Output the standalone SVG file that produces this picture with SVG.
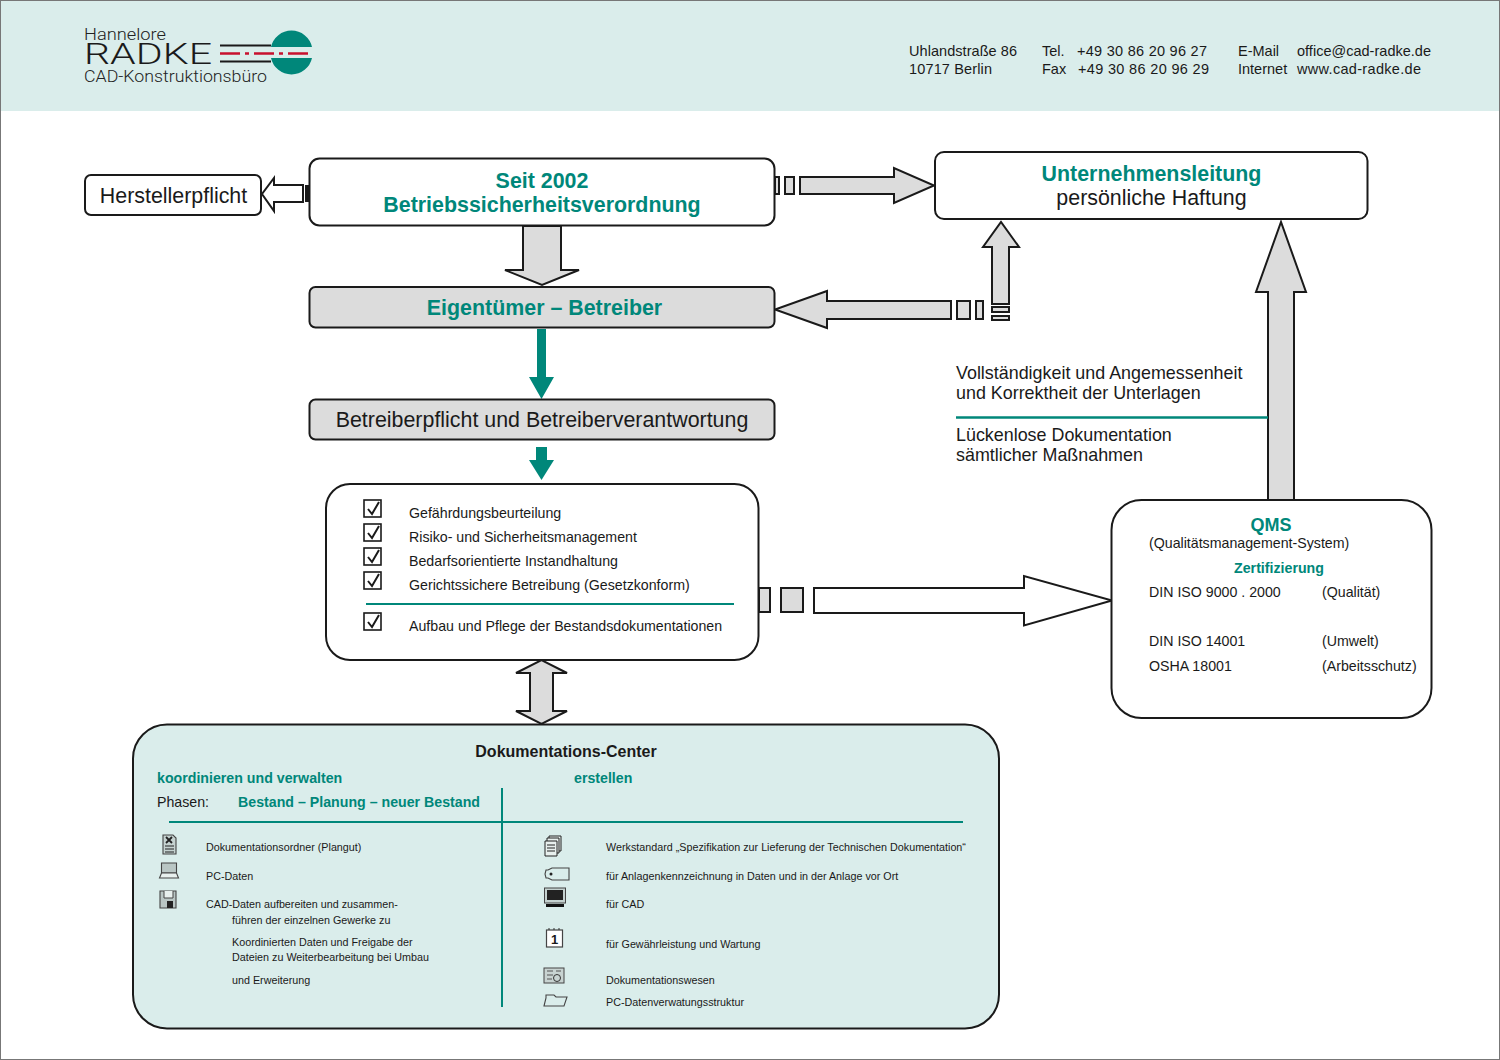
<svg xmlns="http://www.w3.org/2000/svg" width="1500" height="1060" viewBox="0 0 1500 1060">
<defs>
<style>
text{font-family:"Liberation Sans",Arial,sans-serif;fill:#1a1a1a}
.box{stroke:#1a1a1a;stroke-width:2;fill:#fff}
.gbox{stroke:#1a1a1a;stroke-width:2;fill:#dcdcdc}
.arr{stroke:#1a1a1a;stroke-width:2;fill:#dcdcdc;stroke-linejoin:miter}
.warr{stroke:#1a1a1a;stroke-width:2;fill:#fff}
.g{fill:#00877a}
.gl{stroke:#00877a;stroke-width:2.5;fill:none}
.h{font-size:21.4px;font-weight:bold;fill:#00877a;text-anchor:middle}
.m{font-size:21.4px;text-anchor:middle}
.s{font-size:14.5px}
.q{font-size:14.2px}
.t{font-size:10.75px}
.b{font-size:14.2px;font-weight:bold;fill:#00877a}
.n{font-size:17.9px}
.lg{font-family:Roboto,"Liberation Sans",sans-serif;font-weight:300;fill:#222}
.ck{fill:#fff;stroke:#1a1a1a;stroke-width:1.6}
.ckm{fill:none;stroke:#1a1a1a;stroke-width:2}
.i{fill:none;stroke:#444;stroke-width:1.1}
</style>
<g id="check"><rect class="ck" x="0" y="0" width="17" height="17"/><path class="ckm" d="M4 9l4 5L15 2"/></g>
</defs>
<rect x="0.5" y="0.5" width="1499" height="1059" fill="#fff" stroke="#777"/>
<rect x="1" y="1" width="1498" height="110" fill="#daedeb"/>

<g id="logo">
<text class="lg" x="84" y="40" textLength="82" lengthAdjust="spacingAndGlyphs" style="font-size:16.5px">Hannelore</text>
<text class="lg" x="84" y="64" textLength="128" lengthAdjust="spacingAndGlyphs" style="font-size:29px;fill:#1a1a1a">RADKE</text>
<text class="lg" x="84" y="82" textLength="183" lengthAdjust="spacingAndGlyphs" style="font-size:16.5px">CAD-Konstruktionsbüro</text>
<path class="g" d="M271 47.500A21 21 0 0 1 312 47.500ZM271 58.500A21 21 0 0 0 312 58.500Z" transform="translate(0 -0.500)"/>
<path d="M220 45.500h51M220 61.500h51" stroke="#1a1a1a" stroke-width="2"/>
<path d="M220 53.500H312" stroke="#c8102e" stroke-width="2.500" stroke-dasharray="20 5 4 5"/>
</g>
<g id="contact">
<text x="909" y="56" class="s" textLength="108">Uhlandstraße 86</text>
<text x="909" y="74" class="s" textLength="83">10717 Berlin</text>
<text x="1042" y="56" class="s">Tel.</text>
<text x="1077" y="56" class="s" textLength="130">+49 30 86 20 96 27</text>
<text x="1042" y="74" class="s">Fax</text>
<text x="1078" y="74" class="s" textLength="131">+49 30 86 20 96 29</text>
<text x="1238" y="56" class="s">E-Mail</text>
<text x="1297" y="56" class="s" textLength="134">office@cad-radke.de</text>
<text x="1238" y="74" class="s">Internet</text>
<text x="1297" y="74" class="s" textLength="124">www.cad-radke.de</text>
</g>

<g id="connectors">
<path class="warr" d="M303 185v17H274v9L262 194 274 178v7z"/>
<path d="M305 185h4v17h-4z" fill="#1a1a1a"/>
<path class="arr" d="M775 177h4v17h-4zM785 177h9v17h-9zM800 177h94v-9l40 17.500-40 17.500v-9h-94z"/>
<path class="arr" d="M523 226h38v44h18l-37 15-37-15h18z"/>
<path class="arr" d="M951 301v18H827v9l-52-18.500 52-18.500v10zM957 301h13v18h-13zM976 301h7v18h-7z"/>
<path class="arr" d="M992 304v-57h-9l18-25 18 25h-10v57zM992 307h17v5h-17zM992 316h17v4h-17z"/>
<path class="arr" d="M1268 500V292h-12l25-70 25 70h-12v208z"/>
<path class="g" d="M537 329h9v48h8l-12.500 22L529 377h8z"/>
<path class="g" d="M536 447h11v13h7l-12.500 20L529 460h7z"/>
<path class="arr" d="M759 588h11v24h-11zM781 588h22v24h-22z"/>
<path class="warr" d="M814 588h210v-12l88 24.500-88 25V613H814z"/>
<path class="arr" d="M530 673h-14l25.500-13 25.500 13h-14v38h14l-25.500 13-25.500-13h14z"/>
</g>

<g id="node-hersteller"><rect class="box" x="85" y="175" width="176" height="40" rx="6"/><text class="m" x="173.500" y="203">Herstellerpflicht</text></g>
<g id="node-seit"><rect class="box" x="309.500" y="158.500" width="465" height="67" rx="10"/><text class="h" x="542" y="188">Seit 2002</text><text class="h" x="542" y="212">Betriebssicherheitsverordnung</text></g>
<g id="node-leitung"><rect class="box" x="935" y="152" width="432.500" height="67" rx="9"/><text class="h" x="1151.500" y="181">Unternehmensleitung</text><text class="m" x="1151.500" y="205">persönliche Haftung</text></g>
<g id="node-eigentuemer"><rect class="gbox" x="309.500" y="287" width="465" height="40.500" rx="6"/><text class="h" x="544.500" y="315">Eigentümer – Betreiber</text></g>
<g id="node-pflicht"><rect class="gbox" x="309.500" y="399.500" width="465" height="40" rx="6"/><text class="m" x="542" y="427">Betreiberpflicht und Betreiberverantwortung</text></g>

<g id="node-massnahmen"><rect class="box" x="326" y="484" width="432.500" height="176" rx="24"/>
<use href="#check" x="364" y="500"/><use href="#check" x="364" y="524"/><use href="#check" x="364" y="548"/><use href="#check" x="364" y="572"/><use href="#check" x="364" y="613"/>
<text class="q" x="409" y="518">Gefährdungsbeurteilung</text>
<text class="q" x="409" y="542">Risiko- und Sicherheitsmanagement</text>
<text class="q" x="409" y="566">Bedarfsorientierte Instandhaltung</text>
<text class="q" x="409" y="590">Gerichtssichere Betreibung (Gesetzkonform)</text>
<path class="gl" style="stroke-width:2" d="M366 604H734"/>
<text class="q" x="409" y="631">Aufbau und Pflege der Bestandsdokumentationen</text>
</g>

<g id="note">
<text class="n" x="956" y="379">Vollständigkeit und Angemessenheit</text>
<text class="n" x="956" y="399">und Korrektheit der Unterlagen</text>
<path class="gl" d="M956 417.500H1268"/>
<text class="n" x="956" y="441">Lückenlose Dokumentation</text>
<text class="n" x="956" y="461">sämtlicher Maßnahmen</text>
</g>

<g id="node-qms"><rect class="box" x="1111.500" y="500" width="320" height="218" rx="30"/>
<text x="1271" y="531" text-anchor="middle" style="font-size:18px;font-weight:bold;fill:#00877a">QMS</text>
<text class="q" x="1149" y="548">(Qualitätsmanagement-System)</text>
<text class="b" x="1279" y="573" text-anchor="middle">Zertifizierung</text>
<text class="q" x="1149" y="597">DIN ISO 9000 . 2000</text><text class="q" x="1322" y="597">(Qualität)</text>
<text class="q" x="1149" y="646">DIN ISO 14001</text><text class="q" x="1322" y="646">(Umwelt)</text>
<text class="q" x="1149" y="671">OSHA 18001</text><text class="q" x="1322" y="671">(Arbeitsschutz)</text>
</g>

<g id="node-doku"><rect x="133" y="724.500" width="866" height="304" rx="34" fill="#daedeb" stroke="#1a1a1a" stroke-width="2"/>
<text x="566" y="757" text-anchor="middle" style="font-size:16px;font-weight:bold">Dokumentations-Center</text>
<text class="b" x="157" y="783">koordinieren und verwalten</text>
<text class="b" x="574" y="783">erstellen</text>
<text class="q" x="157" y="807">Phasen:</text>
<text class="b" x="238" y="807">Bestand – Planung – neuer Bestand</text>
<path class="gl" style="stroke-width:2" d="M169 822H963M502 788V1007"/>
<text class="t" x="206" y="851">Dokumentationsordner (Plangut)</text>
<text class="t" x="206" y="880">PC-Daten</text>
<text class="t" x="206" y="908">CAD-Daten aufbereiten und zusammen-</text>
<text class="t" x="232" y="924">führen der einzelnen Gewerke zu</text>
<text class="t" x="232" y="946">Koordinierten Daten und Freigabe der</text>
<text class="t" x="232" y="961">Dateien zu Weiterbearbeitung bei Umbau</text>
<text class="t" x="232" y="984">und Erweiterung</text>
<text class="t" x="606" y="851">Werkstandard „Spezifikation zur Lieferung der Technischen Dokumentation“</text>
<text class="t" x="606" y="880">für Anlagenkennzeichnung in Daten und in der Anlage vor Ort</text>
<text class="t" x="606" y="908">für CAD</text>
<text class="t" x="606" y="948">für Gewährleistung und Wartung</text>
<text class="t" x="606" y="984">Dokumentationswesen</text>
<text class="t" x="606" y="1006">PC-Datenverwatungsstruktur</text>
<g id="icons">
<path d="M163 835h10l3 3v16h-13z" fill="#c5d2d0" stroke="#444" stroke-width="1.100"/><path d="M165 846h9M165 849h9M165 852h9" stroke="#222" stroke-width="1"/><path d="M166 837l6 6M172 837l-6 6" stroke="#222" stroke-width="1.800"/>
<path d="M161.500 863h15v10h-15z" fill="#b9c6c4" stroke="#444" stroke-width="1.100"/><path d="M159.500 878l2-5h15l2 5z" fill="#e8f0ee" stroke="#444" stroke-width="1.100"/>
<path d="M160 891h16v17h-16z" fill="#b9c6c4" stroke="#444" stroke-width="1.100"/><path d="M164 891v7h9v-7" fill="#e8f0ee" stroke="#444"/><rect x="167" y="901" width="6" height="7" fill="#222"/>
<path d="M549 836h12v15h-12z" fill="#e8f0ee" stroke="#222"/><path d="M547 838h12v15h-12z" fill="#e8f0ee" stroke="#222"/><path d="M545 841h12v15h-12z" fill="#e8f0ee" stroke="#222"/><path d="M547 845h8M547 848h8M547 851h8" stroke="#222"/>
<path class="i" d="M552 868h17v12h-17l-4-2h-2l-1-4 1-4h2z"/><circle cx="551" cy="874" r="1.500" fill="#222"/>
<rect x="544.500" y="888" width="21" height="15" fill="#c5d2d0" stroke="#444"/><rect x="547" y="890" width="16" height="10" fill="#222"/><rect x="546" y="904" width="18" height="3" fill="#111"/>
<rect x="546.500" y="930" width="16" height="17" fill="#fff" stroke="#444" stroke-width="1.200"/><text x="554.500" y="944" text-anchor="middle" style="font-size:13px;font-weight:bold">1</text><path d="M549 928v2M554 928v2M559 928v2" stroke="#333"/>
<rect x="544" y="968" width="20" height="15" fill="#c8d3d1" stroke="#444"/><path d="M547 971h6M547 975h6M556 971h5M547 979h5" stroke="#555"/><circle cx="557" cy="978" r="3.500" fill="none" stroke="#333"/>
<path class="i" d="M544 1006l2-8v-3h8l2 2h11l-3 9z"/>
</g>
</g>
</svg>
